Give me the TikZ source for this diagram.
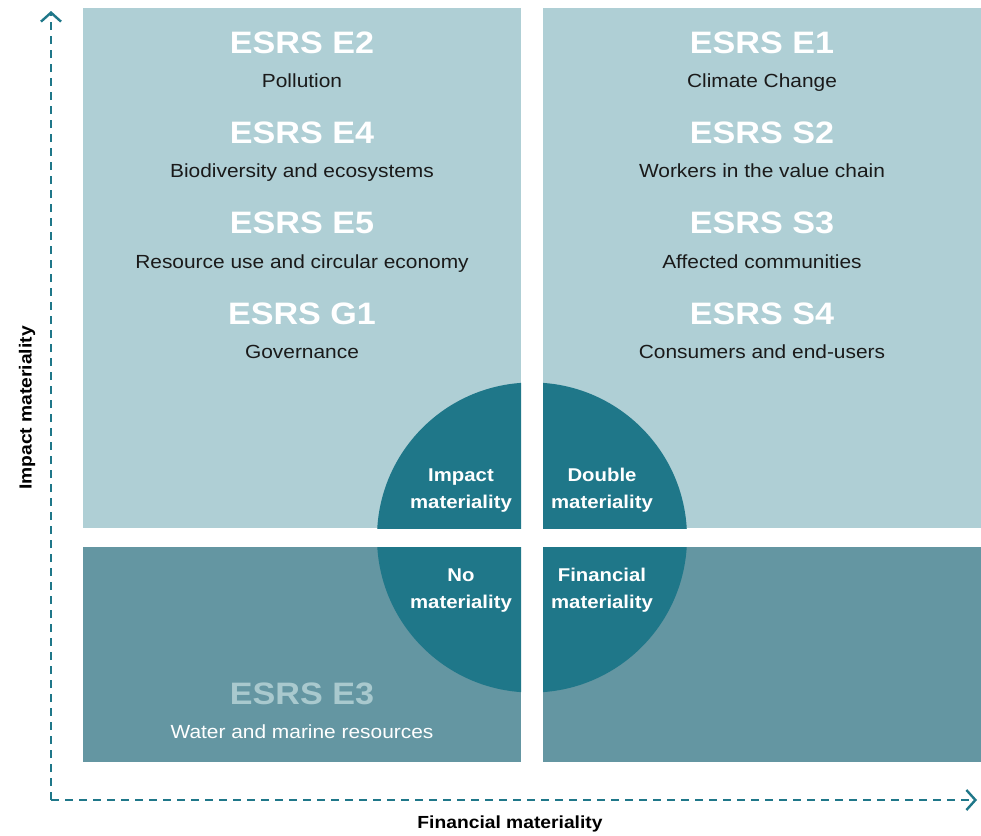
\documentclass[tikz,border=0pt]{standalone}
\usepackage{fontspec}
\setmainfont{Liberation Sans}[FakeStretch=1.1]
\usetikzlibrary{arrows.meta}
\definecolor{lightpanel}{HTML}{AFCFD5}
\definecolor{darkpanel}{HTML}{6496A2}
\definecolor{teal}{HTML}{1F7789}
\definecolor{fadedtitle}{HTML}{A9C9CE}
\definecolor{bodytext}{HTML}{1A1A1A}
\tikzset{
  title/.style={font=\fontsize{31}{31}\selectfont\bfseries, text=white, anchor=base},
  subtitle/.style={font=\fontsize{19}{19}\selectfont, text=bodytext, anchor=base},
  % two-line labels: the base anchor sits on the second line
  quarter/.style={font=\fontsize{18.5}{27}\selectfont\bfseries, text=white, align=center, anchor=base},
  axislabel/.style={font=\fontsize{17.5}{17.5}\selectfont\bfseries, text=black},
  axis/.style={draw=teal, line width=2.6pt, dash pattern=on 8pt off 6pt,
    -{Straight Barb[length=9pt, width=20pt, line width=2.4pt]}},
}
\begin{document}
\begin{tikzpicture}[x=1pt, y=-1pt]
\useasboundingbox (0,0) rectangle (981,835);

% quadrant panels
\fill[lightpanel] (83,8) rectangle (521,528);
\fill[lightpanel] (543,8) rectangle (981,528);
\fill[darkpanel] (83,547) rectangle (521,762);
\fill[darkpanel] (543,547) rectangle (981,762);

% central disc, split by the gaps between panels
\foreach \xa/\ya/\xb/\yb in {83/8/521/528, 543/8/981/528, 83/547/521/762, 543/547/981/762}{
  \begin{scope}
    \clip (\xa,\ya) rectangle (\xb,\yb);
    \fill[teal] (532,537.5) circle[radius=155];
  \end{scope}
}

% top-left: impact materiality topics
\node[title] (e2) at (302,53) {ESRS E2};
\node[subtitle] (e2t) at (302,87) {Pollution};
\node[title] (e4) at (302,143) {ESRS E4};
\node[subtitle] (e4t) at (302,177) {Biodiversity and ecosystems};
\node[title] (e5) at (302,233) {ESRS E5};
\node[subtitle] (e5t) at (302,268) {Resource use and circular economy};
\node[title] (g1) at (302,324) {ESRS G1};
\node[subtitle] (g1t) at (302,358) {Governance};

% top-right: double materiality topics
\node[title] (e1) at (762,53) {ESRS E1};
\node[subtitle] (e1t) at (762,87) {Climate Change};
\node[title] (s2) at (762,143) {ESRS S2};
\node[subtitle] (s2t) at (762,177) {Workers in the value chain};
\node[title] (s3) at (762,233) {ESRS S3};
\node[subtitle] (s3t) at (762,268) {Affected communities};
\node[title] (s4) at (762,324) {ESRS S4};
\node[subtitle] (s4t) at (762,358) {Consumers and end-users};

% bottom-left: not material
\node[title, text=fadedtitle] (e3) at (302,704) {ESRS E3};
\node[subtitle, text=white] (e3t) at (302,738) {Water and marine resources};

% quarter labels on the disc
\node[quarter] (qimpact) at (461,508) {Impact\\materiality};
\node[quarter] (qdouble) at (602,508) {Double\\materiality};
\node[quarter] (qnone) at (461,608) {No\\materiality};
\node[quarter] (qfin) at (602,608) {Financial\\materiality};

% axes
\coordinate (origin) at (51,800);
\coordinate (ytip) at (51,11);
\coordinate (xtip) at (977,800);
\draw[axis] (origin) -- (ytip);
\draw[axis] (origin) -- (xtip);
\node[axislabel] (xlabel) at (510,824) {Financial materiality};
\node[axislabel, rotate=90] (ylabel) at (27,408) {Impact materiality};
\end{tikzpicture}
\end{document}
